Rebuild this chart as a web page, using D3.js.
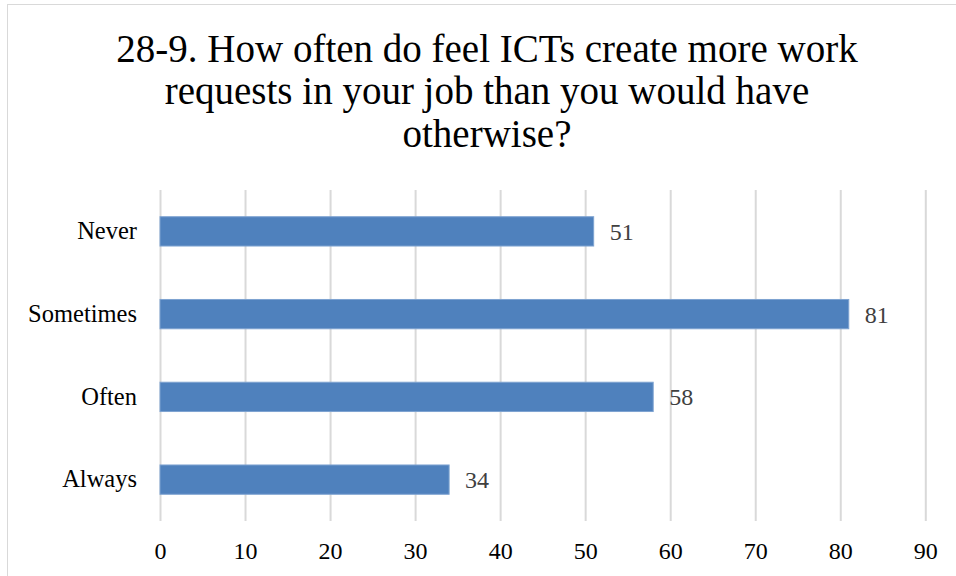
<!DOCTYPE html>
<html>
<head>
<meta charset="utf-8">
<script src="https://cdn.jsdelivr.net/npm/d3@7"></script>
<style>
  body { margin: 0; background: #fff; }
  text { font-family: "Liberation Serif", "DejaVu Serif", serif; }
</style>
</head>
<body>
<script>
const categories = ['Never', 'Sometimes', 'Often', 'Always']
const values = [51, 81, 58, 34]
const tickValues = [0, 10, 20, 30, 40, 50, 60, 70, 80, 90]
const titleLines = ['28-9. How often do feel ICTs create more work',
  'requests in your job than you would have',
  'otherwise?']

const width = 956, height = 576
const plot = {left: 160, right: 925.3, top: 190, bottom: 521}

const svg = d3.select('body').append('svg')
    .attr('width', width)
    .attr('height', height)

// chart area border
svg.append('rect')
    .attr('x', 7.5)
    .attr('y', 4.5)
    .attr('width', 960)
    .attr('height', 600)
    .attr('fill', 'none')
    .attr('stroke', '#d9d9d9')

svg.selectAll('.title')
    .data(titleLines)
    .enter()
    .append('text')
        .attr('class', 'title')
        .attr('x', 487)
        .attr('y', (d, i) => 61.5 + i * 42.8)
        .attr('text-anchor', 'middle')
        .attr('font-size', '39px')
        .attr('fill', '#000')
        .text(d => d)

const xScale = d3.scaleLinear()
    .domain([0, 90])
    .range([plot.left, plot.right])

const yScale = d3.scaleBand()
    .domain(categories)
    .range([plot.top, plot.bottom])
    .paddingInner(0.646)
    .paddingOuter(0.323)

// gridlines
svg.append('g')
    .attr('transform', 'translate(0,' + plot.bottom + ')')
    .call(d3.axisBottom(xScale).tickValues(tickValues).tickSize(-(plot.bottom - plot.top)).tickFormat(''))
    .call(g => g.select('.domain').remove())
    .call(g => g.selectAll('line').attr('stroke', '#d9d9d9').attr('stroke-width', 2))

// x tick labels
svg.append('g')
    .attr('transform', 'translate(0,' + plot.bottom + ')')
    .call(d3.axisBottom(xScale).tickValues(tickValues).tickSize(0).tickPadding(21))
    .call(g => g.select('.domain').remove())
    .call(g => g.selectAll('text')
        .attr('font-size', '24px')
        .attr('fill', '#000')
        .style('font-family', '"Liberation Serif", serif'))

// y labels
svg.append('g')
    .attr('transform', 'translate(' + plot.left + ',0)')
    .call(d3.axisLeft(yScale).tickSize(0).tickPadding(23))
    .call(g => g.select('.domain').remove())
    .call(g => g.selectAll('text')
        .attr('font-size', '24.5px')
        .attr('fill', '#000')
        .style('font-family', '"Liberation Serif", serif'))

const data = categories.map((c, i) => ({cat: c, val: values[i]}))

svg.selectAll('.bar').data(data)
    .enter()
    .append('rect')
        .attr('class', 'bar')
        .attr('x', xScale(0))
        .attr('y', d => yScale(d.cat))
        .attr('width', d => xScale(d.val) - xScale(0))
        .attr('height', yScale.bandwidth())
        .attr('fill', '#4f81bd')
        .attr('stroke', '#7ea3d1')
        .attr('stroke-width', 1)

svg.selectAll('.val').data(data)
    .enter()
    .append('text')
        .attr('class', 'val')
        .attr('x', d => xScale(d.val) + 16)
        .attr('y', d => yScale(d.cat) + yScale.bandwidth() / 2)
        .attr('dy', '0.35em')
        .attr('font-size', '24px')
        .attr('fill', '#404040')
        .text(d => d.val)
</script>
</body>
</html>
